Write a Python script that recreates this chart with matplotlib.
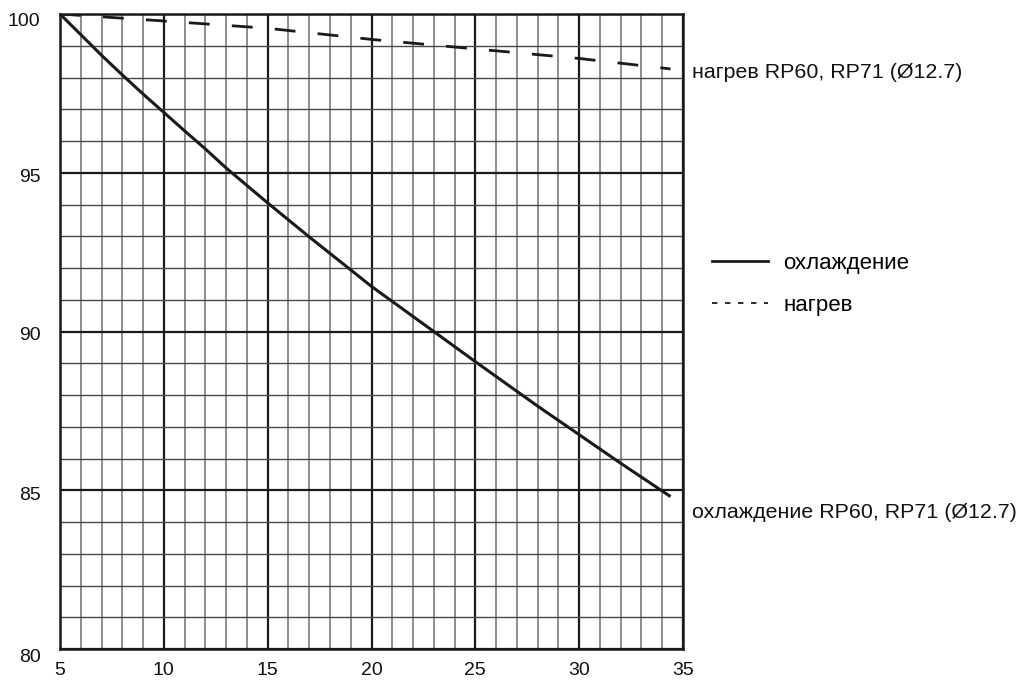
import matplotlib
matplotlib.use("Agg")
import matplotlib.pyplot as plt
from matplotlib.lines import Line2D
import matplotlib.transforms as mtransforms

plt.rcParams['font.family'] = ['Liberation Sans', 'DejaVu Sans']

# data
cool_x = [5, 6, 7, 8, 9, 10, 11, 12, 13, 14, 15, 17, 20, 23, 25, 28, 30, 32, 34.4]
cool_y = [100, 99.35, 98.7, 98.08, 97.48, 96.9, 96.32, 95.75, 95.15, 94.6, 94.05, 92.98, 91.42, 90.0, 89.05, 87.65, 86.75, 85.85, 84.8]
heat_x = [5, 10, 15, 20, 25, 30, 34.4]
heat_y = [100, 99.78, 99.55, 99.2, 98.9, 98.6, 98.27]

xticks = [5, 10, 15, 20, 25, 30, 35]
yticks = [80, 85, 90, 95, 100]
cool_label = "охлаждение RP60, RP71 (Ø12.7)"
heat_label = "нагрев RP60, RP71 (Ø12.7)"
legend_labels = ["охлаждение", "нагрев"]

fig = plt.figure(figsize=(10.21, 6.84), dpi=100)
ax = fig.add_axes([60/1021, 1-649/684, 623/1021, 635/684])
ax.set_xlim(5, 35)
ax.set_ylim(80, 100)

# grid
for x in range(5, 36):
    major = (x % 5 == 0)
    ax.axvline(x, color='#1a1a1a' if major else '#6f6f6f', lw=1.6 if major else 1.1, zorder=1)
for y in range(80, 101):
    major = (y % 5 == 0)
    ax.axhline(y, color='#1a1a1a' if major else '#4a4a4a', lw=1.6 if major else 1.0, zorder=1)

ax.plot(cool_x, cool_y, color='#1a1a1a', lw=2.2, zorder=3, solid_capstyle='butt')
ax.plot(heat_x, heat_y, color='#1a1a1a', lw=2.0, zorder=3, dashes=(7.5, 8.0))

for s in ax.spines.values():
    s.set_linewidth(1.8)
    s.set_color('#1a1a1a')

ax.set_xticks(xticks)
ax.set_yticks(yticks)
ax.set_xticklabels([str(v) for v in xticks])
ax.set_yticklabels([str(v) for v in yticks])
ax.tick_params(length=0, labelsize=14, colors='#111111')
ax.tick_params(axis='y', pad=14)
ax.tick_params(axis='x', pad=9.5)
y_offsets = [6, 3, 2, 3, 6]
for lbl, dy in zip(ax.get_yticklabels(), y_offsets):
    off = mtransforms.ScaledTranslation(0, -dy/100, fig.dpi_scale_trans)
    lbl.set_transform(lbl.get_transform() + off)

ax.text(35.45, 98.15, heat_label, fontsize=15.4, va='center', ha='left', clip_on=False, color='#111111')
ax.text(35.45, 84.3, cool_label, fontsize=15.4, va='center', ha='left', clip_on=False, color='#111111')

handles = [Line2D([], [], color='#1a1a1a', lw=2.0),
           Line2D([], [], color='#1a1a1a', lw=1.3, dashes=(3.0, 4.2))]
fig.legend(handles, legend_labels, loc='upper left', bbox_to_anchor=(692/1021, 1-233/684),
           frameon=False, fontsize=16, handlelength=2.5, handletextpad=0.72, labelspacing=0.95,
           borderpad=0.4)

fig.savefig("out.png", dpi=100)
